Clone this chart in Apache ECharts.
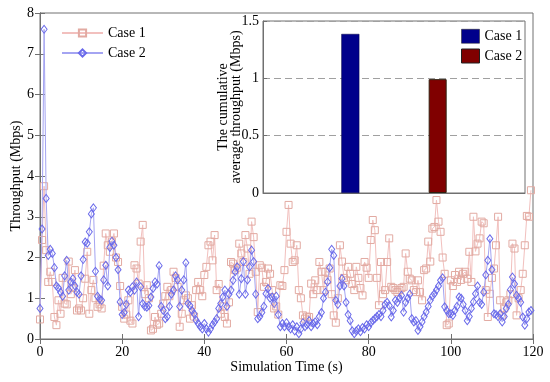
<!DOCTYPE html>
<html>
<head>
<meta charset="utf-8">
<script src="https://cdn.jsdelivr.net/npm/echarts@6/dist/echarts.min.js"></script>
<style>html,body{margin:0;padding:0;background:#fff}#c{width:550px;height:382px}</style>
</head>
<body>
<div id="c"></div>
<script>
// ---- data ----
const timeStep = 0.5; // seconds between samples (t = 0, 0.5, 1, ...)
const case1 = [
  0.48, 2.43, 3.75, 2.18, 1.4, 1.65, 1.4, 0.54, 0.34, 0.95, 0.62, 1.5, 0.87, 0.85, 1.9, 1.1, 1.25, 1.69, 0.7, 0.75,
  0.7, 1.0, 1.48, 2.14, 0.62, 1.2, 1.45, 1.0, 0.79, 0.85, 0.75, 1.8, 2.59, 2.3, 2.14, 2.39, 2.59, 2.0, 1.89, 1.3,
  0.79, 0.5, 0.6, 0.95, 0.45, 0.38, 1.81, 1.73, 1.36, 2.39, 2.8, 1.1, 1.32, 1.0, 0.21, 0.25, 0.54, 0.35, 0.38, 0.62,
  0.87, 1.05, 1.28, 1.05, 1.2, 1.65, 1.5, 1.28, 0.3, 0.62, 0.95, 1.07, 1.0, 0.5, 0.83, 0.55, 1.2, 1.4, 1.2, 1.05,
  1.57, 1.77, 2.3, 2.39, 1.93, 2.55, 1.2, 1.35, 0.62, 0.8, 0.54, 0.38, 0.9, 1.89, 1.85, 1.69, 1.75, 2.34, 2.1, 1.89,
  2.55, 2.22, 1.6, 2.88, 2.5, 1.65, 0.66, 1.81, 1.75, 1.28, 1.4, 1.73, 1.6, 1.2, 0.75, 0.8, 0.6, 1.32, 1.3, 1.69,
  2.63, 3.29, 2.34, 1.89, 1.93, 2.3, 1.2, 1.0, 0.58, 0.5, 0.55, 0.54, 1.36, 1.1, 1.44, 1.2, 1.89, 1.65, 1.2, 1.65,
  1.45, 1.73, 1.1, 0.58, 0.4, 1.0, 2.3, 1.9, 1.5, 1.44, 1.77, 1.6, 1.35, 1.2, 1.77, 1.5, 1.25, 1.07, 1.89, 1.75,
  1.5, 2.43, 2.92, 2.67, 1.5, 0.83, 1.89, 1.1, 1.2, 1.89, 2.47, 1.28, 1.25, 1.2, 1.15, 1.2, 1.25, 1.28, 2.1, 1.65,
  1.48, 1.44, 1.2, 1.15, 1.44, 1.15, 0.95, 1.69, 1.73, 2.39, 1.9, 2.71, 2.75, 3.41, 2.88, 2.63, 2.0, 1.6, 0.34, 0.38,
  1.44, 1.3, 1.57, 1.4, 1.65, 1.45, 1.6, 1.65, 1.48, 2.14, 1.4, 3.0, 2.15, 2.34, 2.47, 2.88, 2.84, 1.2, 0.54, 1.11,
  1.5, 1.73, 2.3, 3.0, 0.95, 0.58, 0.75, 0.9, 0.95, 1.1, 2.34, 2.22, 0.58, 1.0, 1.2, 1.6, 2.3, 3.02, 3.0, 3.65
];
const case2 = [
  0.75, 2.7, 7.6, 3.45, 2.05, 2.2, 2.1, 1.75, 1.3, 1.25, 1.15, 1.05, 1.55, 1.93, 1.2, 1.4, 1.48, 1.3, 1.15, 1.1,
  1.55, 1.95, 2.38, 2.35, 2.63, 3.07, 3.22, 1.66, 1.05, 0.98, 0.95, 1.45, 1.81, 1.3, 2.25, 2.4, 2.3, 2.0, 1.7, 0.91,
  0.6, 0.65, 0.85, 1.2, 1.15, 1.28, 1.2, 1.4, 0.55, 1.28, 0.87, 0.8, 0.78, 0.82, 1.03, 1.24, 1.4, 1.35, 1.8, 0.8,
  0.7, 0.5, 0.55, 0.8, 1.1, 1.2, 1.55, 1.45, 0.8, 1.2, 1.45, 1.87, 0.87, 0.82, 0.7, 0.62, 0.46, 0.38, 0.3, 0.25,
  0.38, 0.25, 0.17, 0.25, 0.35, 0.42, 0.5, 0.75, 0.87, 1.03, 1.2, 0.8, 1.1, 1.2, 1.44, 1.65, 1.77, 1.1, 1.48, 1.9,
  1.1, 1.45, 1.77, 2.18, 1.9, 1.1, 0.5, 0.55, 0.65, 0.8, 1.11, 1.24, 1.0, 1.03, 0.87, 1.05, 0.6, 0.3, 0.38, 0.3,
  0.4, 0.3, 0.25, 0.35, 0.2, 0.3, 0.13, 0.25, 0.4, 0.3, 0.35, 0.45, 0.3, 0.38, 0.42, 0.35, 0.55, 0.65, 1.0, 1.15,
  1.4, 1.75, 2.2, 2.05, 0.95, 0.85, 1.3, 1.48, 1.3, 0.9, 0.6, 0.45, 0.2, 0.13, 0.2, 0.25, 0.18, 0.28, 0.25, 0.35,
  0.3, 0.4, 0.45, 0.5, 0.55, 0.6, 0.55, 0.7, 0.85, 0.9, 0.82, 0.54, 0.7, 0.95, 0.9, 1.0, 1.07, 0.66, 0.9, 1.0,
  1.1, 0.5, 0.42, 0.45, 0.21, 0.3, 0.42, 0.55, 0.66, 0.8, 0.95, 1.05, 1.11, 1.2, 1.3, 1.44, 1.5, 0.79, 0.7, 0.62,
  0.62, 0.58, 0.7, 0.8, 1.03, 1.0, 0.85, 0.7, 0.45, 0.55, 0.75, 0.91, 1.11, 1.3, 0.9, 0.85, 1.15, 1.57, 1.93, 2.46,
  1.7, 0.62, 0.6, 0.55, 0.62, 0.42, 0.55, 0.75, 0.85, 1.21, 1.52, 1.35, 1.07, 1.0, 0.9, 0.54, 0.34, 0.5, 0.66, 0.7
];
const seriesNames = ['Case 1', 'Case 2'];
const barPositions = [1, 2];
const cumulativeAvg = [1.387, 0.993];
const xTicks = { min: 0, max: 120, interval: 20 };
const yTicks = { min: 0, max: 8, interval: 1 };
const insetTicks = { min: 0, max: 1.5, interval: 0.5 };

// ---- chart ----
const FONT = "'Liberation Serif', 'Times New Roman', serif";
const toPairs = arr => arr.map((v, i) => [i * timeStep, v]);
const frame = '#707070';

const chart = echarts.init(document.getElementById('c'), null, { renderer: 'canvas' });
const mainAxisCommon = {
  axisLine: { show: true, lineStyle: { color: frame, width: 1 } },
  axisTick: { show: true, inside: true, length: 5, lineStyle: { color: frame } },
  splitLine: { show: false },
  axisLabel: { fontFamily: FONT, fontSize: 14, color: '#000' }
};

chart.setOption({
  animation: false,
  backgroundColor: '#fff',
  textStyle: { fontFamily: FONT },
  grid: [
    { left: 40, right: 17, top: 13, bottom: 43, show: true, borderColor: frame, borderWidth: 1, backgroundColor: 'transparent', z: 0 },
    { left: 263, right: 25, top: 21, bottom: 189, show: true, borderColor: frame, borderWidth: 1, backgroundColor: '#fff', z: 5 }
  ],
  xAxis: [
    Object.assign({}, mainAxisCommon, {
      type: 'value', gridIndex: 0, min: xTicks.min, max: xTicks.max, interval: xTicks.interval,
      name: 'Simulation Time (s)', nameLocation: 'middle', nameGap: 21, nameMoveOverlap: false,
      nameTextStyle: { fontFamily: FONT, fontSize: 14, color: '#000' },
      axisLabel: { fontFamily: FONT, fontSize: 14, color: '#000', margin: 6 }
    }),
    Object.assign({}, mainAxisCommon, {
      type: 'value', gridIndex: 0, position: 'top', min: xTicks.min, max: xTicks.max, interval: xTicks.interval,
      axisLabel: { show: false }
    }),
    {
      type: 'value', gridIndex: 1, min: 0, max: 3, z: 6,
      axisLine: { show: true, lineStyle: { color: frame } },
      axisTick: { show: false }, axisLabel: { show: false }, splitLine: { show: false }
    }
  ],
  yAxis: [
    Object.assign({}, mainAxisCommon, {
      type: 'value', gridIndex: 0, min: yTicks.min, max: yTicks.max, interval: yTicks.interval,
      name: 'Throughput (Mbps)', nameLocation: 'middle', nameGap: 17, nameMoveOverlap: false,
      nameTextStyle: { fontFamily: FONT, fontSize: 14, color: '#000' },
      axisLabel: { fontFamily: FONT, fontSize: 14, color: '#000', margin: 6 }
    }),
    Object.assign({}, mainAxisCommon, {
      type: 'value', gridIndex: 0, position: 'right', min: yTicks.min, max: yTicks.max, interval: yTicks.interval,
      axisLabel: { show: false }
    }),
    {
      type: 'value', gridIndex: 1, min: insetTicks.min, max: insetTicks.max, interval: insetTicks.interval, z: 6,
      name: 'The cumulative\naverage throughput (Mbps)', nameLocation: 'middle', nameGap: 20, nameMoveOverlap: false,
      nameTextStyle: { fontFamily: FONT, fontSize: 14, color: '#000', lineHeight: 13, align: 'center' },
      axisLine: { show: true, lineStyle: { color: frame } },
      axisTick: { show: true, inside: true, length: 4, lineStyle: { color: frame } },
      axisLabel: { fontFamily: FONT, fontSize: 14, color: '#000', margin: 4 },
      splitLine: { show: true, lineStyle: { color: '#a0a0a0', type: [7, 4], width: 1 } }
    }
  ],
  legend: [
    {
      left: 56, top: 21, orient: 'vertical', itemWidth: 41, itemHeight: 9, itemGap: 6,
      textStyle: { fontFamily: FONT, fontSize: 14, color: '#000' },
      data: seriesNames
    },
    {
      left: 456, top: 24, orient: 'vertical', itemWidth: 18, itemHeight: 14, itemGap: 5, z: 8,
      textStyle: { fontFamily: FONT, fontSize: 14, color: '#000' },
      data: [
        { name: seriesNames[0], icon: 'rect', itemStyle: { color: '#00008b', borderColor: '#202020', borderWidth: 0.5 } },
        { name: seriesNames[1], icon: 'rect', itemStyle: { color: '#800000', borderColor: '#202020', borderWidth: 1 } }
      ]
    }
  ],
  series: [
    {
      name: seriesNames[0], type: 'line', xAxisIndex: 0, yAxisIndex: 0,
      data: toPairs(case1), symbol: 'rect', symbolSize: 7, showAllSymbol: true,
      lineStyle: { color: '#f2c0be', width: 1 },
      itemStyle: { color: 'rgba(255,255,255,0)', borderColor: '#e2aaa2', borderWidth: 1 },
      z: 2
    },
    {
      name: seriesNames[1], type: 'line', xAxisIndex: 0, yAxisIndex: 0,
      data: toPairs(case2), symbol: 'diamond', symbolSize: [6, 8], showAllSymbol: true,
      lineStyle: { color: '#a4a4f2', width: 1 },
      itemStyle: { color: 'rgba(255,255,255,0)', borderColor: '#6a6aea', borderWidth: 1 },
      z: 3
    },
    {
      name: seriesNames[0], type: 'bar', xAxisIndex: 2, yAxisIndex: 2, barWidth: 18, barGap: '-100%',
      data: [[barPositions[0], cumulativeAvg[0]]],
      itemStyle: { color: '#00008b', borderColor: '#000040', borderWidth: 0.5 }, z: 7
    },
    {
      name: seriesNames[1], type: 'bar', xAxisIndex: 2, yAxisIndex: 2, barWidth: 18, barGap: '-100%',
      data: [[barPositions[1], cumulativeAvg[1]]],
      itemStyle: { color: '#800000', borderColor: '#302010', borderWidth: 1 }, z: 7
    }
  ]
});
</script>
</body>
</html>
